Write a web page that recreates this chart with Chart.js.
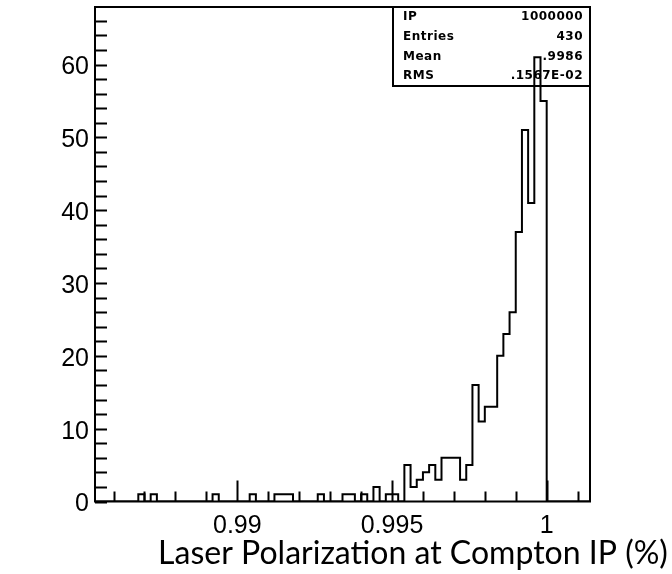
<!DOCTYPE html>
<html>
<head>
<meta charset="utf-8">
<script src="https://cdn.jsdelivr.net/npm/chart.js@4.4.1/dist/chart.umd.min.js"></script>
<style>
  html, body { margin: 0; padding: 0; background: #fff; }
</style>
</head>
<body>
<canvas id="histo" width="672" height="574"></canvas>
<script>
// Binning: 80 bins of 0.0002 from 0.9854 to 1.0014
const binLow = 0.9854;
const binWidth = 0.0002;
// Entries per bin, left to right
const binCounts = [
  0, 0, 0, 0, 0, 0, 0, 1, 0, 1,
  0, 0, 0, 0, 0, 0, 0, 0, 0, 1,
  0, 0, 0, 0, 0, 1, 0, 0, 0, 1,
  1, 1, 0, 0, 0, 0, 1, 0, 0, 0,
  1, 1, 0, 1, 0, 2, 0, 1, 1, 0,
  5, 2, 3, 4, 5, 3, 6, 6, 6, 3,
  5, 16, 11, 13, 13, 20, 23, 26, 37, 51,
  41, 61, 55, 0, 0, 0, 0, 0, 0, 0
];

// Axis ranges and labelled ticks
const xMin = 0.9854;
const xMax = 1.0014;
const yMax = 67.9;
const xLabelTicks = [0.99, 0.995, 1];
const xLabelText = ['0.99', '0.995', '1'];
const yLabelTicks = [0, 10, 20, 30, 40, 50, 60];

// Statistics box
const statNames = ['IP', 'Entries', 'Mean', 'RMS'];
const statValues = ['1000000', '430', '.9986', '.1567E-02'];

const axisTitle = 'Laser Polarization at Compton IP (%)';

// histogram outline: one point per bin low edge, plus the closing edge
const points = binCounts.map((c, k) => ({ x: binLow + k * binWidth, y: c }));
points.push({ x: binLow + binCounts.length * binWidth, y: 0 });

// PAW look: frame, inward ticks, stats box, big axis title
const pawFrame = {
    id: 'pawFrame',
    beforeDraw(chart) {
        const ctx = chart.ctx;
        ctx.save();
        ctx.fillStyle = '#fff';
        ctx.fillRect(0, 0, chart.width, chart.height);
        ctx.restore();
    },
    beforeDatasetsDraw(chart) {
        const ctx = chart.ctx;
        const a = chart.chartArea;
        const boxLeft = 393, boxBottom = 86;
        ctx.save();
        ctx.fillStyle = '#fff';
        ctx.fillRect(boxLeft, a.top, a.right - boxLeft, boxBottom - a.top);
        ctx.strokeStyle = '#000';
        ctx.lineWidth = 2;
        ctx.strokeRect(boxLeft, a.top, a.right - boxLeft, boxBottom - a.top);
        ctx.fillStyle = '#000';
        ctx.font = 'bold 12px "DejaVu Sans"';
        ctx.letterSpacing = '0.5px';
        ctx.textBaseline = 'middle';
        const rowH = (boxBottom - a.top) / statNames.length;
        statNames.forEach((name, i) => {
            const y = a.top + rowH * (i + 0.5);
            ctx.textAlign = 'left';
            ctx.fillText(name, boxLeft + 10, y);
            ctx.textAlign = 'right';
            ctx.fillText(statValues[i], a.right - 7, y);
        });
        ctx.restore();
    },
    afterDatasetsDraw(chart) {
        const ctx = chart.ctx;
        const a = chart.chartArea;
        const xs = chart.scales.x, ys = chart.scales.y;
        ctx.save();
        ctx.strokeStyle = '#000';
        ctx.lineWidth = 2;
        ctx.strokeRect(a.left, a.top, a.right - a.left, a.bottom - a.top);

        ctx.beginPath();
        for (let v = 0; v < yMax; v += 2) {
            const py = Math.round(ys.getPixelForValue(v)) + 0.5;
            ctx.moveTo(a.left, py);
            ctx.lineTo(a.left + 12, py);
        }
        for (let m = 986; m <= 1001; m++) {
            const v = m / 1000;
            const px = Math.round(xs.getPixelForValue(v)) + 0.5;
            const big = xLabelTicks.some(t => Math.abs(t - v) < 1e-7);
            ctx.moveTo(px, a.bottom);
            ctx.lineTo(px, a.bottom - (big ? 21 : 10));
        }
        ctx.stroke();

        // axis title, fitted to the width it has in the original
        let size = 30;
        ctx.font = size + 'px Lato';
        const w = ctx.measureText(axisTitle).width;
        size = size * 510 / w;
        ctx.font = size + 'px Lato';
        ctx.fillStyle = '#000';
        ctx.textAlign = 'center';
        ctx.textBaseline = 'alphabetic';
        ctx.fillText(axisTitle, 413, 564);
        ctx.restore();
    }
};

const ctx = document.getElementById('histo').getContext('2d');
new Chart(ctx, {
    type: 'line',
    data: {
        datasets: [{
            data: points,
            stepped: true,
            borderColor: '#000',
            borderWidth: 2,
            pointRadius: 0,
            fill: false
        }]
    },
    options: {
        responsive: false,
        animation: false,
        layout: {
            padding: { top: 7, right: 82, bottom: 0, left: 0 }
        },
        plugins: {
            legend: { display: false },
            tooltip: { enabled: false }
        },
        scales: {
            x: {
                type: 'linear',
                min: xMin,
                max: xMax,
                afterBuildTicks: scale => {
                    scale.ticks = xLabelTicks.map(v => ({ value: v }));
                },
                afterFit: scale => {
                    scale.height = 72.5;
                    scale.paddingLeft = 0;
                    scale.paddingRight = 0;
                },
                grid: { display: false, drawTicks: false },
                border: { display: false },
                ticks: {
                    autoSkip: false,
                    maxRotation: 0,
                    padding: 10,
                    color: '#000',
                    font: { family: '"Liberation Sans"', size: 25 },
                    callback: (value, index) => xLabelText[index]
                }
            },
            y: {
                min: 0,
                max: yMax,
                afterBuildTicks: scale => {
                    scale.ticks = yLabelTicks.map(v => ({ value: v }));
                },
                afterFit: scale => {
                    scale.width = 95;
                    scale.paddingTop = 0;
                    scale.paddingBottom = 0;
                },
                grid: { display: false, drawTicks: false },
                border: { display: false },
                ticks: {
                    padding: 6,
                    labelOffset: 3,
                    color: '#000',
                    font: { family: '"Liberation Sans"', size: 25 },
                    callback: value => String(value)
                }
            }
        }
    },
    plugins: [pawFrame]
});
</script>
</body>
</html>
